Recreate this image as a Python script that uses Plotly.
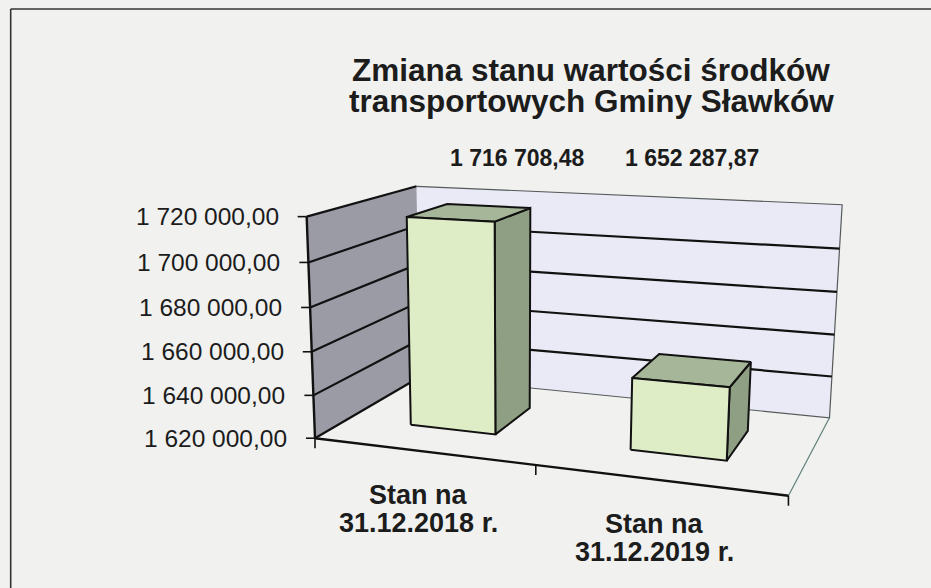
import numpy as np
import plotly.graph_objects as go

# ---------------- data ----------------
categories = ["Stan na\n31.12.2018 r.", "Stan na\n31.12.2019 r."]
values = [1716708.48, 1652287.87]
axis_ticks = [1620000, 1640000, 1660000, 1680000, 1700000, 1720000]
title_lines = ["Zmiana stanu wartości środków", "transportowych Gminy Sławków"]

V_MIN, V_MAX = 1620000, 1720000
W, H = 931, 588
FONT = "Liberation Sans, Arial, sans-serif"
TXT = "#1c1c1c"
BG = "#f1f2f0"

# ---------------- perspective camera (calibrated on the 3-D box corners) ----------------
calib = [
    ((0, 0, 0), (316.7, 437.3)),
    ((0, 1, 0), (305.0, 216.7)),
    ((0, 1, 1), (418.3, 186.0)),
    ((0, 0, 1), (418.0, 378.0)),
    ((1, 1, 1), (841.7, 205.0)),
    ((1, 0, 1), (830.0, 416.7)),
    ((1, 0, 0), (788.3, 496.7)),
]


def fit_camera(pairs):
    rows = []
    for (u, v, w), (x, y) in pairs:
        X = [u, v, w, 1.0]
        rows.append(X + [0, 0, 0, 0] + [-x * c for c in X])
        rows.append([0, 0, 0, 0] + X + [-y * c for c in X])
    A = np.array(rows, float)
    _, _, vt = np.linalg.svd(A)
    return vt[-1].reshape(3, 4)


P = fit_camera(calib)


def proj(u, v, w):
    h = P @ np.array([u, v, w, 1.0])
    return h[0] / h[2], h[1] / h[2]


def vnorm(val):
    return (val - V_MIN) / (V_MAX - V_MIN)


def fmt(val):
    return f"{val:,.2f}".replace(",", " ").replace(".", ",")


fig = go.Figure()


def poly(pts3, fill, line_color, lw):
    xs, ys = zip(*[proj(*p) for p in pts3])
    xs = list(xs) + [xs[0]]
    ys = list(ys) + [ys[0]]
    fig.add_trace(go.Scatter(x=xs, y=ys, mode="lines", fill="toself", fillcolor=fill,
                             line=dict(color=line_color, width=lw), hoverinfo="skip",
                             showlegend=False))


def line(pts3, color, lw):
    xs, ys = zip(*[proj(*p) for p in pts3])
    fig.add_trace(go.Scatter(x=list(xs), y=list(ys), mode="lines",
                             line=dict(color=color, width=lw), hoverinfo="skip",
                             showlegend=False))


# walls
poly([(0, 0, 1), (1, 0, 1), (1, 1, 1), (0, 1, 1)], "#eaeaf6", "rgba(0,0,0,0)", 0)
poly([(0, 0, 0), (0, 0, 1), (0, 1, 1), (0, 1, 0)], "#9a9ba5", "rgba(0,0,0,0)", 0)

# back wall thin edges
line([(0, 1, 1), (1, 1, 1), (1, 0, 1), (0, 0, 1)], "#555a5a", 1.2)
# floor right edge
line([(1, 0, 1), (1, 0, 0)], "#5f7f7a", 1.2)

# gridlines (value axis)
for t in axis_ticks:
    v = vnorm(t)
    if t in (axis_ticks[0], axis_ticks[-1]):
        line([(0, v, 0), (0, v, 1)], "#111111", 2.2)
    else:
        line([(0, v, 0), (0, v, 1), (1, v, 1)], "#111111", 2.2)

# bars
n = len(values)
gap_width = 1.5
half = 0.5 / n / (1 + gap_width)
w0, w1 = 0.3, 0.7
for i, val in enumerate(values):
    c = (i + 0.5) / n
    u0, u1 = c - half, c + half
    vt = vnorm(val)
    poly([(u1, 0, w0), (u1, 0, w1), (u1, vt, w1), (u1, vt, w0)], "#8f9f84", "#111111", 2)
    poly([(u0, vt, w0), (u1, vt, w0), (u1, vt, w1), (u0, vt, w1)], "#a6b699", "#111111", 2)
    poly([(u0, 0, w0), (u1, 0, w0), (u1, vt, w0), (u0, vt, w0)], "#dfedc6", "#111111", 2)

# front axes
line([(0, 0, 0), (0, 1, 0)], "#111111", 2.4)
line([(0, 0, 0), (1, 0, 0)], "#111111", 2.4)

annotations = []
# value ticks + labels
for t in axis_ticks:
    x, y = proj(0, vnorm(t), 0)
    fig.add_trace(go.Scatter(x=[x - 9, x], y=[y, y], mode="lines",
                             line=dict(color="#111111", width=1.6), hoverinfo="skip",
                             showlegend=False))
    annotations.append(dict(x=x - 26, y=y, text=fmt(t), xanchor="right", yanchor="middle",
                            showarrow=False, font=dict(family=FONT, size=24.5, color=TXT)))

# category ticks
for k in range(n + 1):
    x, y = proj(k / n, 0, 0)
    fig.add_trace(go.Scatter(x=[x, x], y=[y, y + 10], mode="lines",
                             line=dict(color="#111111", width=1.6), hoverinfo="skip",
                             showlegend=False))

# category labels
for i, cat in enumerate(categories):
    x, y = proj((i + 0.5) / n, 0, 0)
    for j, part in enumerate(cat.split("\n")):
        annotations.append(dict(x=x - 3, y=y + 44 + 28 * j, text=f"<b>{part}</b>",
                                xanchor="center", yanchor="middle", showarrow=False,
                                font=dict(family=FONT, size=27, color=TXT)))

# data labels
label_x = [517, 692]
for i, val in enumerate(values):
    annotations.append(dict(x=label_x[i], y=157.5, text=f"<b>{fmt(val)}</b>",
                            xanchor="center", yanchor="middle", showarrow=False,
                            font=dict(family=FONT, size=23, color=TXT)))

# title
for j, t in enumerate(title_lines):
    annotations.append(dict(x=591, y=70 + 31 * j, text=f"<b>{t}</b>", xanchor="center",
                            yanchor="middle", showarrow=False,
                            font=dict(family=FONT, size=31.5, color=TXT)))

# outer frame (left and top edges visible in the crop)
shapes = [
    dict(type="line", x0=10.7, y0=9, x1=10.7, y1=H + 20, line=dict(color="#333333", width=1.6),
         xref="x", yref="y"),
    dict(type="line", x0=10.7, y0=9, x1=W + 20, y1=9, line=dict(color="#333333", width=1.6),
         xref="x", yref="y"),
]

fig.update_layout(
    width=W, height=H,
    margin=dict(l=0, r=0, t=0, b=0),
    paper_bgcolor=BG, plot_bgcolor=BG,
    xaxis=dict(range=[0, W], visible=False, fixedrange=True),
    yaxis=dict(range=[H, 0], visible=False, fixedrange=True),
    annotations=annotations,
    shapes=shapes,
    showlegend=False,
)

fig.write_html(
    "out.html",
    config={"displayModeBar": False},
    post_script="document.body.style.margin='0';document.body.style.overflow='hidden';"
                "document.body.style.background='" + BG + "';",
)
